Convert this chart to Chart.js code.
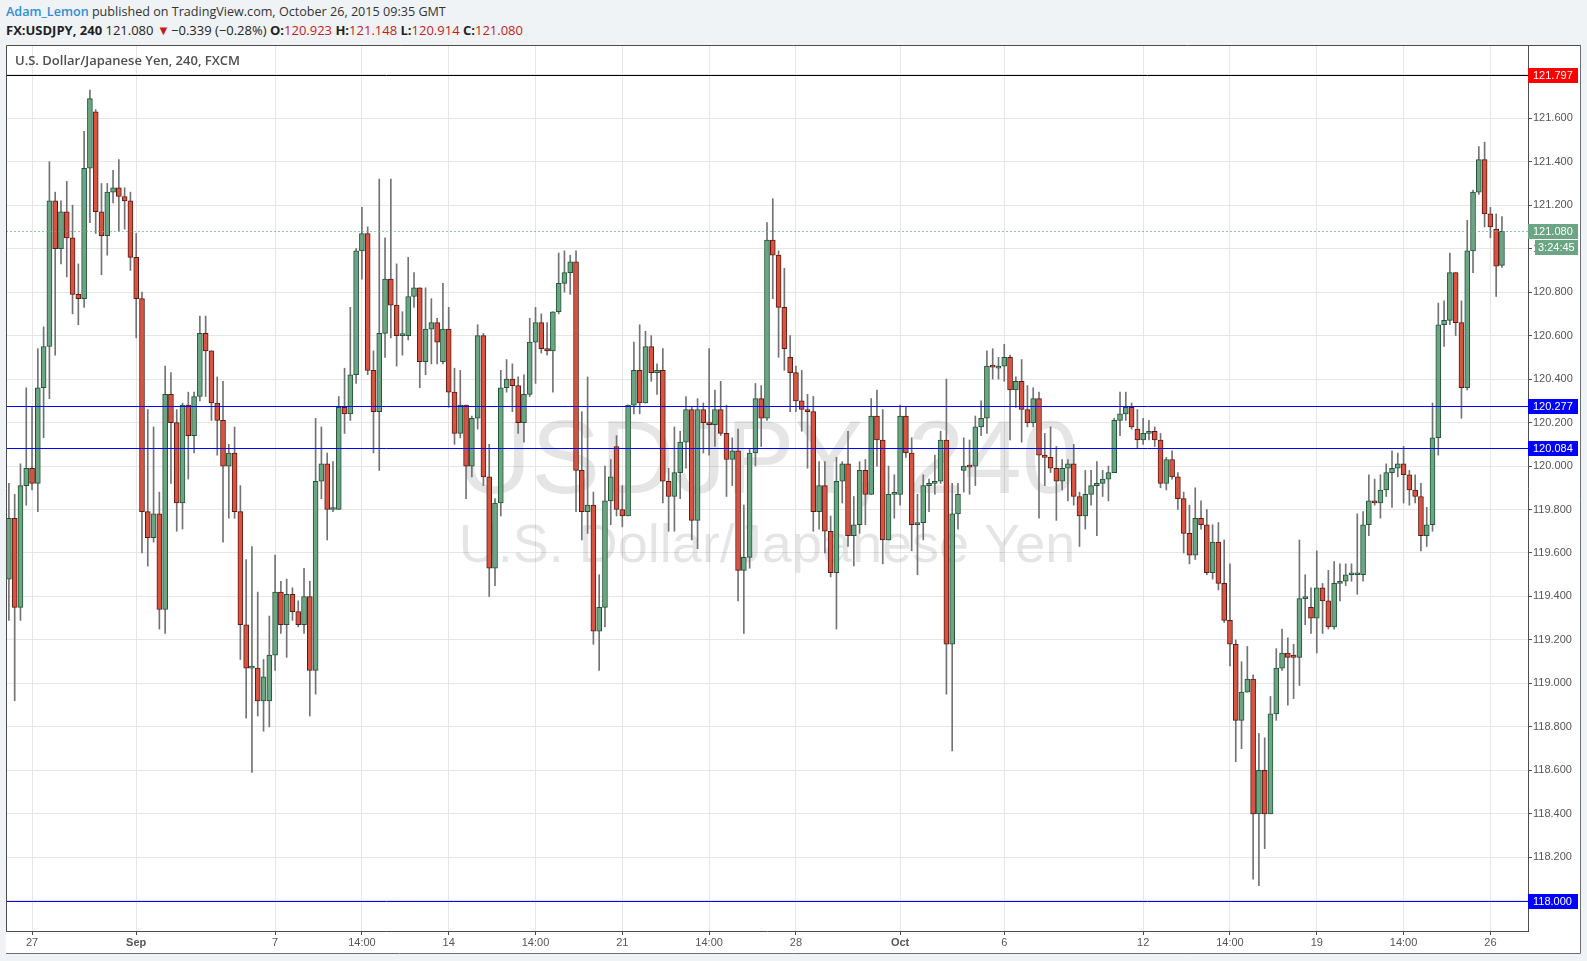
<!DOCTYPE html>
<html>
<head>
<meta charset="utf-8">
<script src="https://cdn.jsdelivr.net/npm/chart.js@4.4.0/dist/chart.umd.min.js"></script>
<style>
html,body{margin:0;padding:0;background:#f0f3f6;}
#wrap{position:relative;width:1587px;height:961px;overflow:hidden;}
#myChart{position:absolute;left:0;top:0;}
.hdr{position:absolute;left:6px;font-family:"Open Sans",sans-serif;font-size:13px;color:#333;white-space:nowrap;}
#h1{top:3px;font-size:12.6px;}
#h2{top:21px;color:#222;}
.au{color:#2f8ed6;font-weight:600;}
.b{font-weight:bold;}
.r{color:#c41b1b;}
</style>
</head>
<body>
<div id="wrap">
  <div class="hdr" id="h1"><span class="au">Adam_Lemon</span> published on TradingView.com, October 26, 2015 09:35 GMT</div>
  <div class="hdr" id="h2"><span class="b">FX:USDJPY, 240</span> 121.080 <span class="r">&#9660;</span>&#8202;&minus;0.339 (&minus;0.28%) <span class="b">O:</span><span class="r">120.923</span> <span class="b">H:</span><span class="r">121.148</span> <span class="b">L:</span><span class="r">120.914</span> <span class="b">C:</span><span class="r">121.080</span></div>
  <canvas id="myChart" width="1587" height="961"></canvas>
</div>
<script>
// USDJPY 4h candles, 26 Aug - 26 Oct 2015
const open = [
119.48,119.76,119.35,119.91,119.99,119.92,120.36,120.55,121.22,121.00,
121.17,121.05,120.79,120.77,121.37,121.63,121.17,121.06,121.26,121.28,
121.24,121.22,120.96,120.77,119.79,119.67,119.78,119.34,120.33,120.20,
119.83,120.28,120.14,120.32,120.61,120.53,120.29,120.21,120.00,120.06,
119.79,119.27,119.07,119.07,118.92,118.92,119.13,119.42,119.27,119.41,
119.33,119.27,119.40,119.06,119.93,120.01,119.80,119.80,120.27,120.24,
120.42,120.99,121.07,120.44,120.25,120.61,120.86,120.74,120.60,120.60,
120.78,120.82,120.48,120.63,120.66,120.48,120.63,120.34,120.15,120.28,
120.00,120.22,120.60,119.95,119.53,119.83,120.36,120.40,120.37,120.20,
120.33,120.57,120.66,120.54,120.53,120.71,120.84,120.89,120.94,119.98,
119.79,119.82,119.24,119.35,119.84,120.09,119.80,119.77,120.28,120.44,
120.29,120.55,120.43,120.44,119.93,119.86,119.97,120.11,120.26,119.75,
120.26,120.20,120.19,120.26,120.15,120.03,120.07,119.52,119.58,120.06,
120.31,120.22,121.04,120.97,120.73,120.50,120.43,120.30,120.26,120.25,
119.79,119.91,119.70,119.51,119.93,120.01,119.68,119.73,119.98,119.87,
120.23,120.12,119.66,119.87,119.87,120.23,120.06,119.73,119.74,119.91,
119.92,119.93,120.12,119.18,119.78,119.98,120.00,120.00,120.18,120.22,
120.46,120.45,120.46,120.50,120.35,120.39,120.26,120.20,120.31,120.05,
120.04,119.99,119.93,119.99,120.01,119.86,119.77,119.87,119.91,119.92,
119.94,119.97,120.21,120.24,120.27,120.17,120.12,120.15,120.16,120.12,
119.92,120.03,119.95,119.85,119.69,119.59,119.76,119.73,119.51,119.65,
119.46,119.29,119.18,118.83,118.96,119.02,118.40,118.60,118.40,118.86,
119.07,119.14,119.13,119.12,119.39,119.35,119.30,119.44,119.38,119.26,
119.46,119.47,119.50,119.50,119.50,119.73,119.84,119.83,119.89,119.97,
119.99,120.01,119.96,119.89,119.86,119.68,119.73,120.13,120.65,120.67,
120.89,120.66,120.36,120.99,121.26,121.41,121.16,121.09,120.923];
const high = [
119.92,119.87,120.01,120.36,120.27,120.54,120.64,121.40,121.26,121.22,
121.31,121.20,120.93,121.54,121.73,121.64,121.30,121.30,121.36,121.41,
121.28,121.26,121.07,120.80,120.26,120.18,119.88,120.46,120.43,120.26,
120.29,120.34,120.34,120.69,120.69,120.53,120.41,120.39,120.10,120.18,
119.91,119.57,119.63,119.42,119.11,119.31,119.59,119.47,119.48,119.44,
119.38,119.53,119.47,120.22,120.18,120.06,120.02,120.32,120.45,120.73,
121.00,121.19,121.10,120.53,121.32,121.05,121.32,120.93,120.71,120.96,
120.89,120.82,120.82,120.77,120.68,120.84,120.73,120.45,120.44,120.28,
120.23,120.65,120.61,120.10,119.85,120.44,120.49,120.47,120.41,120.42,
120.68,120.73,120.70,120.66,120.71,120.98,120.99,120.97,120.99,120.25,
120.41,119.88,119.50,120.00,120.03,120.14,119.91,120.28,120.57,120.65,
120.62,120.60,120.47,120.54,119.99,120.18,120.16,120.32,120.27,120.31,
120.29,120.54,120.35,120.39,120.28,120.13,120.17,119.82,120.08,120.38,
120.37,121.12,121.23,120.99,120.91,120.60,120.46,120.44,120.33,120.32,
120.02,120.02,119.77,120.04,120.02,120.16,119.86,120.02,120.03,120.31,
120.35,120.26,120.00,119.96,120.28,120.27,120.13,119.87,119.96,119.94,
120.05,120.16,120.40,119.92,119.92,120.13,120.12,120.23,120.30,120.53,
120.54,120.50,120.56,120.51,120.41,120.49,120.37,120.36,120.34,120.15,
120.18,120.09,120.03,120.03,120.10,119.88,119.98,119.98,120.02,119.98,
120.00,120.22,120.34,120.34,120.29,120.26,120.22,120.21,120.18,120.15,
120.04,120.07,119.97,119.88,119.82,119.90,119.84,119.80,119.73,119.74,
119.66,119.55,119.20,119.10,119.17,119.04,118.77,118.75,118.94,119.16,
119.25,119.21,119.18,119.66,119.50,119.44,119.61,119.46,119.52,119.56,
119.55,119.55,119.55,119.78,119.79,119.96,119.94,119.96,120.01,120.07,
120.06,120.09,119.98,119.96,119.92,119.81,120.29,120.75,120.76,120.98,
120.89,120.76,121.13,121.27,121.47,121.49,121.19,121.16,121.148];
const low = [
119.29,118.92,119.29,119.82,119.89,119.79,120.13,120.31,120.51,120.93,
120.87,120.70,120.65,120.73,121.12,121.07,120.88,120.97,121.21,121.08,
121.09,120.90,120.59,119.60,119.54,119.65,119.25,119.23,119.92,119.70,
119.71,119.94,120.06,120.30,120.32,120.21,120.05,119.65,119.76,119.76,
119.11,118.84,118.59,118.85,118.78,118.80,119.06,119.23,119.12,119.29,
119.26,119.23,118.85,118.95,119.85,119.66,119.79,119.80,120.15,120.21,
120.38,120.86,120.42,120.06,119.98,120.50,120.59,120.46,120.51,120.58,
120.73,120.36,120.42,120.47,120.47,120.47,120.27,120.10,120.13,119.85,
119.95,120.17,119.91,119.40,119.45,119.77,120.34,120.25,120.15,120.11,
120.32,120.38,120.52,120.51,120.34,120.70,120.80,120.79,119.79,119.66,
119.69,119.18,119.06,119.26,119.73,119.77,119.72,119.77,120.24,120.24,
120.29,120.39,120.33,119.83,119.70,119.70,119.85,119.99,119.66,119.62,
120.06,120.05,120.09,120.14,119.86,119.91,119.38,119.23,119.53,120.00,
120.09,120.21,120.77,120.50,120.44,120.25,120.25,120.16,119.99,119.70,
119.71,119.60,119.49,119.25,119.83,119.63,119.54,119.69,119.73,119.87,
120.00,119.55,119.66,119.76,119.82,120.04,119.61,119.50,119.66,119.79,
119.87,119.92,118.95,118.69,119.71,119.88,119.87,119.91,120.14,120.15,
120.40,120.40,120.39,120.12,120.27,120.11,120.18,120.18,119.76,119.91,
119.97,119.75,119.89,119.84,119.82,119.63,119.71,119.82,119.68,119.86,
119.84,119.97,120.14,120.21,120.17,120.08,120.10,120.12,120.09,119.90,
119.89,119.94,119.80,119.60,119.55,119.57,119.71,119.50,119.48,119.43,
119.28,119.08,118.64,118.70,118.96,118.10,118.07,118.24,118.40,118.83,
119.06,118.90,118.93,118.99,119.27,119.23,119.14,119.23,119.25,119.25,
119.38,119.45,119.47,119.41,119.47,119.68,119.82,119.76,119.86,119.81,
119.95,119.83,119.82,119.83,119.61,119.63,119.70,120.05,120.55,120.65,
120.60,120.22,120.35,120.89,121.25,121.10,121.05,120.78,120.914];
const close = [
119.76,119.35,119.91,119.99,119.92,120.36,120.55,121.22,121.00,121.17,
121.05,120.79,120.77,121.37,121.69,121.17,121.06,121.26,121.28,121.24,
121.22,120.96,120.77,119.79,119.67,119.78,119.34,120.33,120.20,119.83,
120.28,120.14,120.32,120.61,120.53,120.29,120.21,120.00,120.06,119.79,
119.27,119.07,119.075,118.92,119.03,119.13,119.42,119.27,119.41,119.33,
119.27,119.40,119.06,119.93,120.01,119.80,119.805,120.27,120.24,120.42,
120.99,121.07,120.44,120.25,120.61,120.86,120.74,120.60,120.605,120.78,
120.82,120.48,120.63,120.66,120.57,120.63,120.34,120.15,120.28,120.00,
120.22,120.60,119.95,119.53,119.83,120.36,120.40,120.37,120.20,120.33,
120.57,120.66,120.54,120.53,120.71,120.84,120.89,120.94,119.98,119.79,
119.82,119.24,119.35,119.84,119.95,119.80,119.77,120.28,120.44,120.29,
120.55,120.43,120.44,119.93,119.86,119.97,120.11,120.26,119.75,120.26,
120.20,120.19,120.26,120.15,120.03,120.07,119.52,119.58,120.06,120.31,
120.22,121.04,120.97,120.73,120.54,120.43,120.30,120.26,120.25,119.79,
119.91,119.70,119.51,119.93,120.01,119.68,119.73,119.98,119.87,120.23,
120.12,119.66,119.87,119.875,120.23,120.06,119.73,119.74,119.91,119.92,
119.93,120.12,119.18,119.78,119.87,120.00,119.995,120.18,120.22,120.46,
120.455,120.46,120.50,120.35,120.39,120.26,120.20,120.31,120.05,120.04,
119.99,119.93,119.99,120.01,119.86,119.77,119.87,119.91,119.92,119.94,
119.97,120.21,120.24,120.27,120.18,120.12,120.15,120.16,120.12,119.92,
120.03,119.95,119.85,119.69,119.59,119.76,119.73,119.51,119.65,119.46,
119.29,119.18,118.83,118.96,119.02,118.40,118.60,118.40,118.86,119.07,
119.14,119.12,119.12,119.39,119.40,119.30,119.44,119.38,119.26,119.46,
119.47,119.50,119.505,119.505,119.73,119.84,119.83,119.89,119.97,119.99,
120.01,119.96,119.89,119.86,119.68,119.73,120.13,120.65,120.67,120.89,
120.66,120.36,120.99,121.26,121.41,121.16,121.10,120.92,121.080];

// time axis labels (candle index -> text)
const tickIdx  = [4, 22, 46, 61, 76, 91, 106, 121, 136, 154, 172, 196, 211, 226, 241, 256];
const tickText = ['27','Sep','7','14:00','14','14:00','21','14:00','28','Oct','6','12','14:00','19','14:00','26'];
const monthTicks = ['Sep','Oct'];
const yTicks = [118.0,118.2,118.4,118.6,118.8,119.0,119.2,119.4,119.6,119.8,120.0,120.2,120.4,120.6,120.8,121.0,121.2,121.4,121.6,121.8];

// drawn horizontal levels
const levelValues = [121.797, 120.277, 120.084, 118.000];
const lastPrice = 121.080;
const countdown = '3:24:45';

const slots = 263; // a few empty slots to the right of the last candle
const labels = Array.from({length: slots}, (_, i) => i);

const UP = '#6ba583', DOWN = '#d75442';
const UP_LINE = '#225437', DOWN_LINE = '#5b1a13';
const levelColors = ['#000000', '#0000ff', '#0000ff', '#0000ff'];
const levelBoxes = ['#ff0000', '#0000ff', '#0000ff', '#0000ff'];

const isUp = i => close[i] >= open[i];

const extras = {
  id: 'extras',
  beforeDraw(chart) {
    const c = chart.ctx;
    c.save();
    c.fillStyle = '#ffffff';
    c.fillRect(6, 45, 1575, 909);
    c.restore();
  },
  beforeDatasetsDraw(chart) {
    const c = chart.ctx, a = chart.chartArea;
    c.save();
    c.beginPath(); c.rect(a.left, a.top, a.right - a.left, a.bottom - a.top); c.clip();
    c.fillStyle = 'rgba(0,0,0,0.1)';
    c.textAlign = 'center';
    c.textBaseline = 'alphabetic';
    c.font = '103px "Liberation Sans", Arial, sans-serif';
    c.fillText('USDJPY, 240', 768, 493);
    c.font = '54px "Liberation Sans", Arial, sans-serif';
    c.fillText('U.S. Dollar/Japanese Yen', 767, 562);
    c.restore();
  },
  afterDatasetsDraw(chart) {
    const c = chart.ctx, a = chart.chartArea, y = chart.scales.y;
    c.save();
    c.lineWidth = 1;
    levelValues.forEach((v, k) => {
      const py = Math.round(y.getPixelForValue(v)) + 0.5;
      c.strokeStyle = levelColors[k];
      c.beginPath(); c.moveTo(a.left, py); c.lineTo(a.right, py); c.stroke();
    });
    const pl = Math.round(y.getPixelForValue(lastPrice)) + 0.5;
    c.strokeStyle = 'rgba(107,165,131,0.7)';
    c.setLineDash([2, 2]);
    c.beginPath(); c.moveTo(a.left, pl); c.lineTo(a.right, pl); c.stroke();
    c.restore();
  },
  afterDraw(chart) {
    const c = chart.ctx, a = chart.chartArea, y = chart.scales.y;
    c.save();
    // frames
    c.strokeStyle = '#4d4d4d';
    c.lineWidth = 1;
    c.beginPath();
    c.moveTo(a.left + 0.5, a.bottom); c.lineTo(a.left + 0.5, a.top + 0.5); c.lineTo(1581, a.top + 0.5);
    c.stroke();
    c.strokeStyle = '#6b6e73';
    c.beginPath();
    c.moveTo(1580.5, a.top); c.lineTo(1580.5, 953.5); c.lineTo(6, 953.5);
    c.stroke();
    // price labels on the axis
    c.font = '11px "Liberation Sans", Arial, sans-serif';
    c.textBaseline = 'middle';
    const box = (v, txt, bg, x0) => {
      const py = Math.round(y.getPixelForValue(v));
      c.fillStyle = bg;
      c.fillRect(x0, py - 7, 1578 - x0, 15);
      c.fillStyle = '#ffffff';
      c.fillText(txt, x0 + 5, py + 1);
    };
    levelValues.forEach((v, k) => box(v, v.toFixed(3), levelBoxes[k], a.right));
    box(lastPrice, lastPrice.toFixed(3), UP, a.right);
    const pl = Math.round(y.getPixelForValue(lastPrice));
    c.fillStyle = UP;
    c.fillRect(a.right + 7, pl + 9, 1578 - a.right - 7, 15);
    c.fillStyle = '#ffffff';
    c.fillText(countdown, a.right + 10, pl + 17);
    // chart title
    c.fillStyle = '#4f4f4f';
    c.font = '600 13px "Open Sans", sans-serif';
    c.textBaseline = 'middle';
    c.fillText('U.S. Dollar/Japanese Yen, 240, FXCM', 15, 61);
    c.restore();
  }
};

const canva = document.getElementById('myChart').getContext('2d');

const config = {
  type: 'bar',
  data: {
    labels: labels,
    datasets: [
      {
        label: 'body',
        data: open.map((o, i) => [o, close[i]]),
        backgroundColor: ctx => isUp(ctx.dataIndex) ? UP : DOWN,
        borderColor: ctx => isUp(ctx.dataIndex) ? UP_LINE : DOWN_LINE,
        borderWidth: 1,
        borderSkipped: false,
        barThickness: 5,
        minBarLength: 2,
        grouped: false,
        order: 0
      },
      {
        label: 'wick',
        data: low.map((l, i) => [l, high[i]]),
        backgroundColor: '#737375',
        borderWidth: 0,
        barThickness: 1,
        minBarLength: 1,
        grouped: false,
        order: 1
      }
    ]
  },
  options: {
    responsive: false,
    animation: false,
    layout: { padding: { left: 6, top: 45, right: 6, bottom: 7 } },
    plugins: { legend: { display: false }, tooltip: { enabled: false } },
    scales: {
      x: {
        type: 'category',
        offset: true,
        grid: {
          offset: false,
          color: ctx => tickIdx.includes(ctx.index) ? '#e6e6e6' : 'rgba(0,0,0,0)',
          tickColor: ctx => tickIdx.includes(ctx.index) ? '#4d4d4d' : 'rgba(0,0,0,0)',
          tickLength: 4
        },
        border: { color: '#4d4d4d', width: 1 },
        ticks: {
          autoSkip: false,
          maxRotation: 0,
          minRotation: 0,
          padding: 1,
          color: '#555555',
          font: ctx => {
            const k = tickIdx.indexOf(ctx.index);
            const bold = k >= 0 && monthTicks.includes(tickText[k]);
            return { family: '"Liberation Sans", Arial, sans-serif', size: 11, weight: bold ? 'bold' : 'normal' };
          },
          callback: (v, i) => {
            const k = tickIdx.indexOf(i);
            return k < 0 ? '' : tickText[k];
          }
        },
        afterFit: s => { s.height = 23; }
      },
      y: {
        position: 'right',
        min: 117.861,
        max: 121.937,
        afterBuildTicks: s => { s.ticks = yTicks.map(v => ({ value: v })); },
        grid: { color: '#e6e6e6', tickColor: '#555555', tickLength: 4 },
        border: { color: '#4d4d4d', width: 1 },
        ticks: {
          padding: 1,
          color: '#555555',
          font: { family: '"Liberation Sans", Arial, sans-serif', size: 11 },
          callback: v => Number(v).toFixed(3)
        },
        afterFit: s => { s.width = 53; }
      }
    }
  },
  plugins: [extras]
};

window.grafica = new Chart(canva, config);
</script>
</body>
</html>
